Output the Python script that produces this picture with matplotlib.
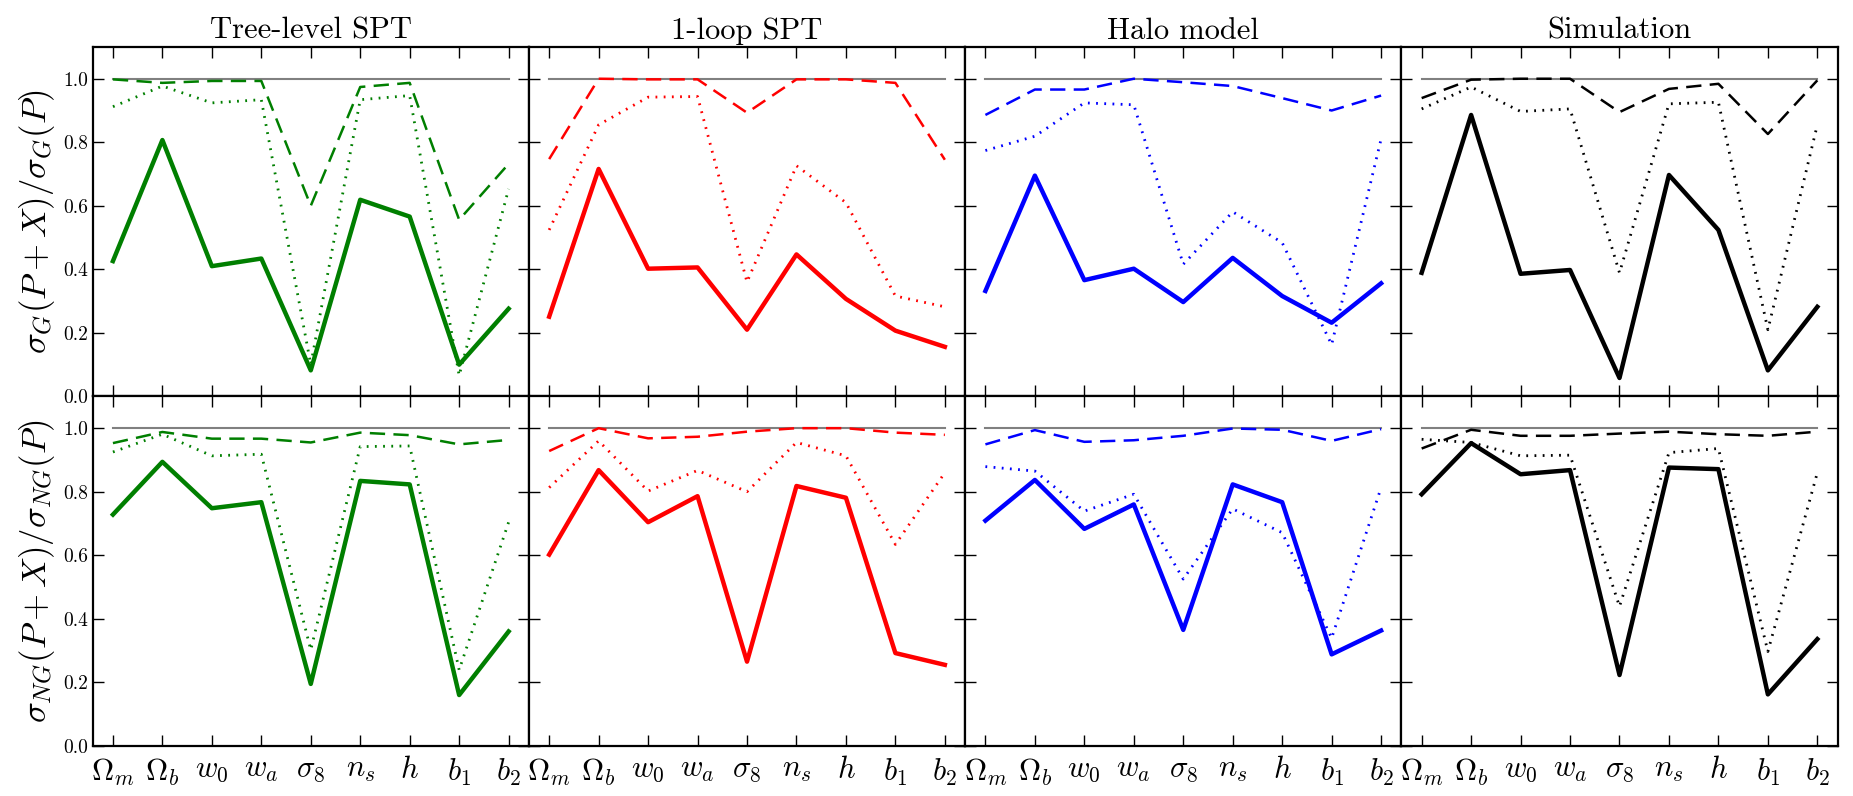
"""Fisher-forecast error ratios: 2x4 grid, one column per model."""

import numpy as np
import matplotlib
matplotlib.use("Agg")
import matplotlib.pyplot as plt

plt.rcParams["font.family"] = "serif"
plt.rcParams["font.serif"] = ["cmr10", "DejaVu Serif"]
plt.rcParams["mathtext.fontset"] = "cm"
plt.rcParams["axes.formatter.use_mathtext"] = True
plt.rcParams["lines.scale_dashes"] = False

params = [r"$\Omega_m$", r"$\Omega_b$", r"$w_0$", r"$w_a$", r"$\sigma_8$",
          r"$n_s$", r"$h$", r"$b_1$", r"$b_2$"]
models = ["Tree-level SPT", "1-loop SPT", "Halo model", "Simulation"]
model_colors = ["#007f00", "#ff0000", "#0000ff", "#000000"]
row_labels = [r"$\sigma_G(P+X)/\sigma_G(P)$",
              r"$\sigma_{NG}(P+X)/\sigma_{NG}(P)$"]

# --- Gaussian covariance (top row) ---
tree_g_solid = [0.426, 0.807, 0.410, 0.434, 0.082, 0.619, 0.566, 0.100, 0.276]
tree_g_dotted = [0.912, 0.977, 0.924, 0.934, 0.100, 0.934, 0.947, 0.066, 0.653]
tree_g_dashed = [0.998, 0.987, 0.993, 0.993, 0.600, 0.974, 0.987, 0.556, 0.732]

loop_g_solid = [0.251, 0.716, 0.402, 0.406, 0.210, 0.447, 0.307, 0.207, 0.156]
loop_g_dotted = [0.524, 0.855, 0.942, 0.944, 0.360, 0.726, 0.610, 0.316, 0.282]
loop_g_dashed = [0.747, 1.000, 0.998, 0.998, 0.893, 0.998, 0.998, 0.987, 0.745]

halo_g_solid = [0.332, 0.695, 0.366, 0.402, 0.297, 0.436, 0.316, 0.232, 0.356]
halo_g_dotted = [0.774, 0.819, 0.924, 0.918, 0.416, 0.581, 0.484, 0.163, 0.810]
halo_g_dashed = [0.886, 0.966, 0.966, 1.000, 0.989, 0.977, 0.939, 0.900, 0.947]

sim_g_solid = [0.389, 0.886, 0.386, 0.398, 0.058, 0.697, 0.524, 0.082, 0.282]
sim_g_dotted = [0.905, 0.974, 0.897, 0.905, 0.389, 0.921, 0.926, 0.210, 0.855]
sim_g_dashed = [0.939, 0.997, 1.000, 1.000, 0.895, 0.968, 0.984, 0.826, 0.995]

# --- non-Gaussian covariance (bottom row) ---
tree_ng_solid = [0.728, 0.894, 0.748, 0.767, 0.195, 0.834, 0.823, 0.160, 0.360]
tree_ng_dotted = [0.925, 0.981, 0.913, 0.918, 0.302, 0.942, 0.944, 0.239, 0.704]
tree_ng_dashed = [0.953, 0.988, 0.967, 0.967, 0.955, 0.986, 0.978, 0.949, 0.963]

loop_ng_solid = [0.602, 0.868, 0.704, 0.786, 0.265, 0.818, 0.781, 0.292, 0.255]
loop_ng_dotted = [0.813, 0.960, 0.802, 0.867, 0.800, 0.955, 0.913, 0.634, 0.860]
loop_ng_dashed = [0.928, 1.000, 0.968, 0.973, 0.989, 1.000, 1.000, 0.986, 0.979]

halo_ng_solid = [0.709, 0.837, 0.683, 0.760, 0.365, 0.823, 0.767, 0.288, 0.363]
halo_ng_dotted = [0.879, 0.865, 0.739, 0.792, 0.525, 0.746, 0.671, 0.339, 0.813]
halo_ng_dashed = [0.949, 0.994, 0.957, 0.962, 0.976, 0.999, 0.995, 0.960, 0.997]

sim_ng_solid = [0.792, 0.953, 0.855, 0.868, 0.223, 0.876, 0.871, 0.162, 0.336]
sim_ng_dotted = [0.965, 0.955, 0.913, 0.915, 0.439, 0.923, 0.936, 0.297, 0.860]
sim_ng_dashed = [0.936, 0.995, 0.976, 0.976, 0.983, 0.989, 0.981, 0.976, 0.989]

grid = [
    [(tree_g_solid, tree_g_dotted, tree_g_dashed),
     (loop_g_solid, loop_g_dotted, loop_g_dashed),
     (halo_g_solid, halo_g_dotted, halo_g_dashed),
     (sim_g_solid, sim_g_dotted, sim_g_dashed)],
    [(tree_ng_solid, tree_ng_dotted, tree_ng_dashed),
     (loop_ng_solid, loop_ng_dotted, loop_ng_dashed),
     (halo_ng_solid, halo_ng_dotted, halo_ng_dashed),
     (sim_ng_solid, sim_ng_dotted, sim_ng_dashed)],
]

x = np.arange(len(params))

fig, axes = plt.subplots(2, 4, figsize=(18.53, 7.96), dpi=100,
                         sharex=True, sharey=True)
fig.subplots_adjust(left=0.050, right=0.9917, top=0.941, bottom=0.063,
                    wspace=0, hspace=0)

for r in range(2):
    for c in range(4):
        ax = axes[r, c]
        solid, dotted, dashed = grid[r][c]
        col = model_colors[c]
        ax.plot(x, np.ones_like(x, dtype=float), color="gray", linewidth=1.5)
        ax.plot(x, solid, color=col, linewidth=3.2)
        ax.plot(x, dotted, color=col, linewidth=2.0, dashes=(1.3, 4.6))
        ax.plot(x, dashed, color=col, linewidth=1.8, dashes=(11, 6))

        ax.set_xlim(-0.41, 8.41)
        ax.set_ylim(0.0, 1.1)
        ax.set_xticks(x)
        ax.set_yticks([0.0, 0.2, 0.4, 0.6, 0.8, 1.0])
        ax.tick_params(direction="in", length=8, width=1.0, top=True,
                       right=True, labelsize=14)
        ax.tick_params(axis="x", labelsize=22, pad=8)
        for sp in ax.spines.values():
            sp.set_linewidth(1.6)
        if r == 0:
            ax.set_title(models[c], fontsize=22, pad=6)
        if c == 0:
            ax.set_ylabel(row_labels[r], fontsize=25, labelpad=4)

axes[1, 0].set_xticklabels(params)
axes[0, 0].yaxis.set_major_formatter(matplotlib.ticker.FormatStrFormatter("%.1f"))

fig.savefig("out.png", dpi=100, facecolor="white")
